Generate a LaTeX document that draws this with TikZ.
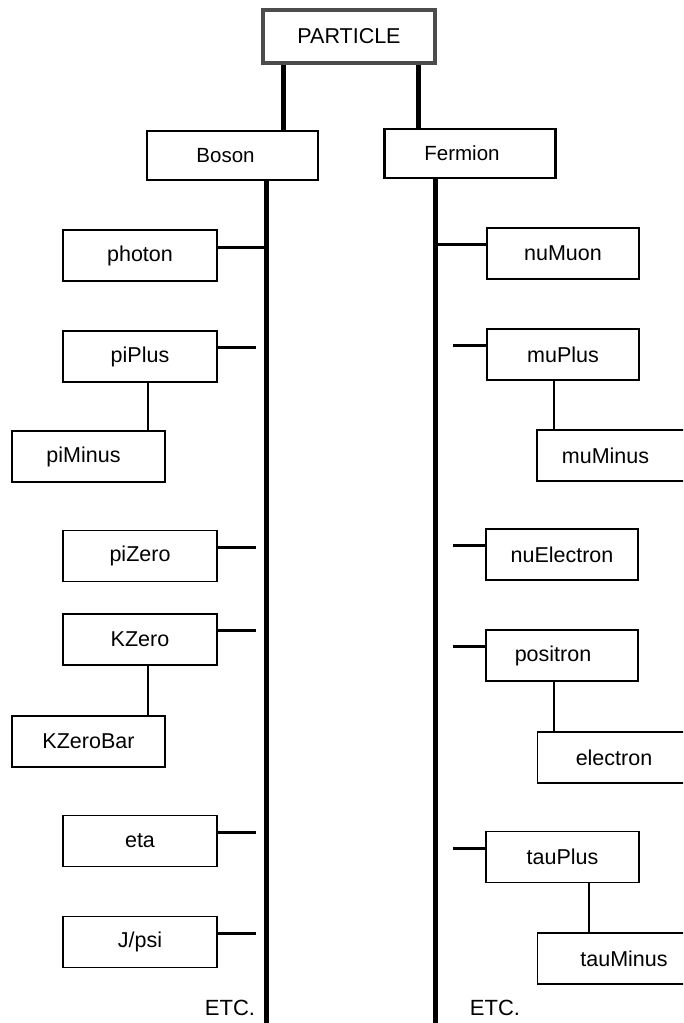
\documentclass[tikz,border=0pt]{standalone}
\usepackage{fontspec}
\setmainfont{Liberation Sans}
\begin{document}
\begin{tikzpicture}[x=1pt,y=-1pt,
  box/.style={draw, line width=1.3pt, fill=white, minimum width=154pt, minimum height=51pt, inner sep=0pt, font=\fontsize{21.5}{24}\selectfont},
  midbox/.style={draw, line width=2.6pt, fill=white, minimum width=171pt, minimum height=49pt, inner sep=0pt, font=\fontsize{20.5}{24}\selectfont},
  topbox/.style={draw=black!70, line width=4.5pt, fill=white, minimum width=172pt, minimum height=53pt, inner sep=0pt, font=\fontsize{21.5}{24}\selectfont},
  trunk/.style={line width=5pt},
  stub/.style={line width=3pt},
  sub/.style={line width=1.5pt},
  etc/.style={font=\fontsize{22}{24}\selectfont, inner sep=0pt}
]
\clip (0,0) rectangle (683,1023);
\fill[white] (0,0) rectangle (683,1023);

% coordinates for free ends
\coordinate (LB) at (266,1023);
\coordinate (RB) at (435,1023);
\coordinate (s1) at (256,0);
\coordinate (s2) at (453,0);

% nodes
\node[topbox] (PARTICLE) at (349,36.5) {PARTICLE};
\node[midbox] (Boson) at (232.5,155.5) {\hspace*{-14pt}Boson};
\node[midbox] (Fermion) at (470,153.5) {\hspace*{-16pt}Fermion};

\node[box] (photon) at (140,255.5) {photon};
\node[box] (piPlus) at (140,356.5) {piPlus};
\node[box, minimum width=153pt] (piMinus) at (88.5,456.5) {\hspace*{-10pt}piMinus};
\node[box] (piZero) at (140,556) {piZero};
\node[box] (KZero) at (140,639.5) {KZero};
\node[box, minimum width=153pt] (KZeroBar) at (88.5,741.5) {KZeroBar};
\node[box] (eta) at (140,841) {eta};
\node[box] (Jpsi) at (140,942) {J/psi};

\node[box, minimum width=152pt] (nuMuon) at (563,253.5) {nuMuon};
\node[box, minimum width=152pt] (muPlus) at (563,354.5) {muPlus};
\node[box, minimum width=153pt] (muMinus) at (613.5,455.5) {\hspace*{-16pt}muMinus};
\node[box, minimum width=152pt] (nuElectron) at (562,554.5) {nuElectron};
\node[box, minimum width=152pt] (positron) at (562,655.5) {\hspace*{-18pt}positron};
\node[box, minimum width=153pt] (electron) at (614,757.5) {electron};
\node[box, minimum width=153pt] (tauPlus) at (562.5,857) {tauPlus};
\node[box, minimum width=153pt] (tauMinus) at (614,958.5) {\hspace*{20pt}tauMinus};

\node[etc] (etcL) at (230,1008) {ETC.};
\node[etc] (etcR) at (495,1008) {ETC.};

% connectors from PARTICLE
\draw[trunk] ([xshift=-66pt]PARTICLE.south) -- ([xshift=-66pt]PARTICLE.south |- Boson.north);
\draw[trunk] ([xshift=69pt]PARTICLE.south) -- ([xshift=69pt]PARTICLE.south |- Fermion.north);

% trunks
\draw[trunk] (Boson.south -| LB) -- (LB);
\draw[trunk] (Fermion.south -| RB) -- (RB);

% left stubs
\draw[stub] ([yshift=8pt]photon.east) -- ([yshift=8pt]photon.east -| LB);
\foreach \n in {piPlus,piZero,KZero,eta,Jpsi}
  \draw[stub] ([yshift=9pt]\n.east) -- ([yshift=9pt]\n.east -| s1);

% right stubs
\draw[stub] ([yshift=9pt]nuMuon.west) -- ([yshift=9pt]nuMuon.west -| RB);
\foreach \n in {muPlus,nuElectron,positron,tauPlus}
  \draw[stub] ([yshift=9pt]\n.west) -- ([yshift=9pt]\n.west -| s2);

% sub connectors
\draw[sub] ([xshift=8pt]piPlus.south) -- ([xshift=8pt]piPlus.south |- piMinus.north);
\draw[sub] ([xshift=8pt]KZero.south) -- ([xshift=8pt]KZero.south |- KZeroBar.north);
\draw[sub] ([xshift=-9pt]muPlus.south) -- ([xshift=-9pt]muPlus.south |- muMinus.north);
\draw[sub] ([xshift=-8pt]positron.south) -- ([xshift=-8pt]positron.south |- electron.north);
\draw[sub] ([xshift=26.5pt]tauPlus.south) -- ([xshift=26.5pt]tauPlus.south |- tauMinus.north);
\end{tikzpicture}
\end{document}
